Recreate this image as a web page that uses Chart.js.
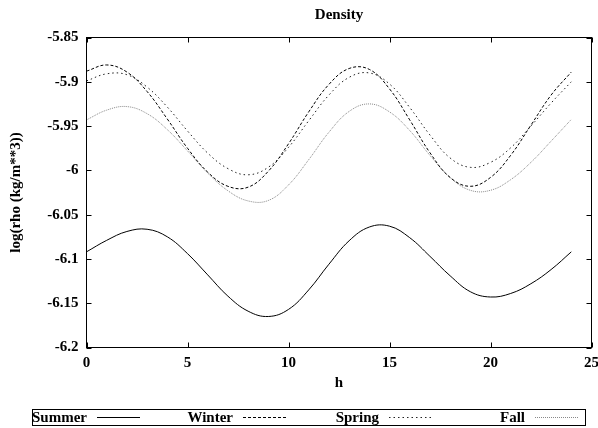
<!DOCTYPE html>
<html>
<head>
  <script src="https://cdn.jsdelivr.net/npm/chart.js"></script>
  <title>Density</title>
  <style>
    body { margin: 0; background: #fff; }
  </style>
</head>
<body>
  <canvas id="density" width="598" height="428"></canvas>

  <script>
    // hour of day
    let hours = [0, 1, 2, 3, 4, 5, 6, 7, 8, 9, 10, 11, 12, 13, 14, 15, 16, 17, 18, 19, 20, 21, 22, 23, 24];

    // log(rho) per season
    let summer = [-6.092, -6.079, -6.069, -6.0665, -6.075, -6.094, -6.118, -6.142, -6.159, -6.165, -6.157, -6.135, -6.106,
                  -6.0795, -6.064, -6.063, -6.076, -6.097, -6.119, -6.137, -6.143, -6.139, -6.128, -6.112, -6.092];
    let winter = [-5.888, -5.881, -5.889, -5.911, -5.942, -5.975, -6.002, -6.018, -6.019, -6.001, -5.970, -5.934, -5.903,
                  -5.885, -5.886, -5.908, -5.943, -5.980, -6.008, -6.018, -6.008, -5.983, -5.949, -5.915, -5.889];
    let spring = [-5.899, -5.891, -5.892, -5.906, -5.9285, -5.9555, -5.9805, -5.998, -6.005, -5.9965, -5.974, -5.944, -5.915,
                  -5.895, -5.890, -5.9025, -5.929, -5.960, -5.986, -5.9966, -5.991, -5.9745, -5.950, -5.924, -5.900];
    let fall   = [-5.943, -5.932, -5.928, -5.936, -5.954, -5.978, -6.003, -6.023, -6.0345, -6.034, -6.0165, -5.988, -5.957,
                  -5.9335, -5.925, -5.934, -5.955, -5.983, -6.008, -6.0225, -6.0225, -6.0105, -5.991, -5.967, -5.9425];

    let xTicks = [0, 5, 10, 15, 20, 25];
    let yTicks = [-6.2, -6.15, -6.1, -6.05, -6, -5.95, -5.9, -5.85];

    const serif = '"Liberation Serif", "Times New Roman", serif';
    Chart.defaults.font.family = serif;
    Chart.defaults.font.size = 15;
    Chart.defaults.font.weight = 'bold';
    Chart.defaults.color = '#000';

    const pts = arr => arr.map((v, i) => ({ x: hours[i], y: v }));

    // gnuplot style frame with inward ticks on all four sides
    const frame = {
      id: 'frame',
      afterDatasetsDraw(chart) {
        const { ctx, chartArea: a, scales: { x, y } } = chart;
        ctx.save();
        ctx.strokeStyle = '#000';
        ctx.lineWidth = 1;
        ctx.strokeRect(a.left, a.top, a.right - a.left, a.bottom - a.top);
        ctx.beginPath();
        x.ticks.forEach(t => {
          const px = Math.round(x.getPixelForValue(t.value)) + 0.5;
          ctx.moveTo(px, a.bottom); ctx.lineTo(px, a.bottom - 5);
          ctx.moveTo(px, a.top); ctx.lineTo(px, a.top + 5);
        });
        y.ticks.forEach(t => {
          const py = Math.round(y.getPixelForValue(t.value)) + 0.5;
          ctx.moveTo(a.left, py); ctx.lineTo(a.left + 5, py);
          ctx.moveTo(a.right, py); ctx.lineTo(a.right - 5, py);
        });
        ctx.stroke();
        ctx.restore();
      }
    };

    // key box under the plot: label first, then line sample
    const bottomKey = {
      id: 'bottomKey',
      afterDraw(chart) {
        const ctx = chart.ctx;
        ctx.save();
        ctx.strokeStyle = '#000';
        ctx.lineWidth = 1;
        ctx.strokeRect(32.5, 409.5, 553, 16);
        ctx.font = 'bold 15px ' + serif;
        ctx.textAlign = 'right';
        ctx.textBaseline = 'middle';
        ctx.fillStyle = '#000';
        chart.data.datasets.forEach((ds, i) => {
          const end = 87 + i * 146;
          ctx.fillText(ds.label, end, 418);
          ctx.strokeStyle = ds.borderColor;
          ctx.setLineDash(ds.borderDash || []);
          ctx.beginPath();
          ctx.moveTo(end + 10, 417.5);
          ctx.lineTo(end + 53, 417.5);
          ctx.stroke();
          ctx.setLineDash([]);
        });
        ctx.restore();
      }
    };

    let ctx = document.getElementById('density').getContext('2d');
    new Chart(ctx, {
      type: 'line',
      data: {
        datasets: [
          { label: 'Summer', data: pts(summer), borderColor: '#000', borderWidth: 1 },
          { label: 'Winter', data: pts(winter), borderColor: '#000', borderWidth: 1, borderDash: [3, 2] },
          { label: 'Spring', data: pts(spring), borderColor: '#222', borderWidth: 1, borderDash: [1.5, 3] },
          { label: 'Fall', data: pts(fall), borderColor: '#888', borderWidth: 1, borderDash: [1, 1] }
        ]
      },
      options: {
        responsive: false,
        animation: false,
        devicePixelRatio: 1,
        layout: { padding: { left: 0, right: 6.5, top: 0, bottom: 36 } },
        elements: {
          point: { radius: 0 },
          line: { tension: 0.4, fill: false }
        },
        plugins: {
          legend: { display: false },
          tooltip: { enabled: false },
          title: {
            display: true,
            text: 'Density',
            fullSize: false,
            font: { size: 15, weight: 'bold' },
            padding: { top: 6, bottom: 13.5 }
          }
        },
        scales: {
          x: {
            type: 'linear',
            min: 0,
            max: 25,
            grid: { display: false, drawTicks: false },
            border: { display: false },
            afterBuildTicks: s => { s.ticks = xTicks.map(v => ({ value: v })); },
            afterFit: s => { s.height = 44.5; s.paddingLeft = 0; s.paddingRight = 0; },
            ticks: { padding: 7, maxRotation: 0, callback: v => String(v) },
            title: { display: true, text: 'h', padding: { top: 0, bottom: 0 } }
          },
          y: {
            min: -6.2,
            max: -5.85,
            grid: { display: false, drawTicks: false },
            border: { display: false },
            afterBuildTicks: s => { s.ticks = yTicks.map(v => ({ value: v })); },
            afterFit: s => { s.width = 86.5; s.paddingTop = 0; s.paddingBottom = 0; },
            ticks: { padding: 8, callback: v => String(+v.toFixed(2)) },
            title: { display: true, text: 'log(rho (kg/m**3))', padding: { top: 7, bottom: 0 } }
          }
        }
      },
      plugins: [frame, bottomKey]
    });
  </script>
</body>
</html>
